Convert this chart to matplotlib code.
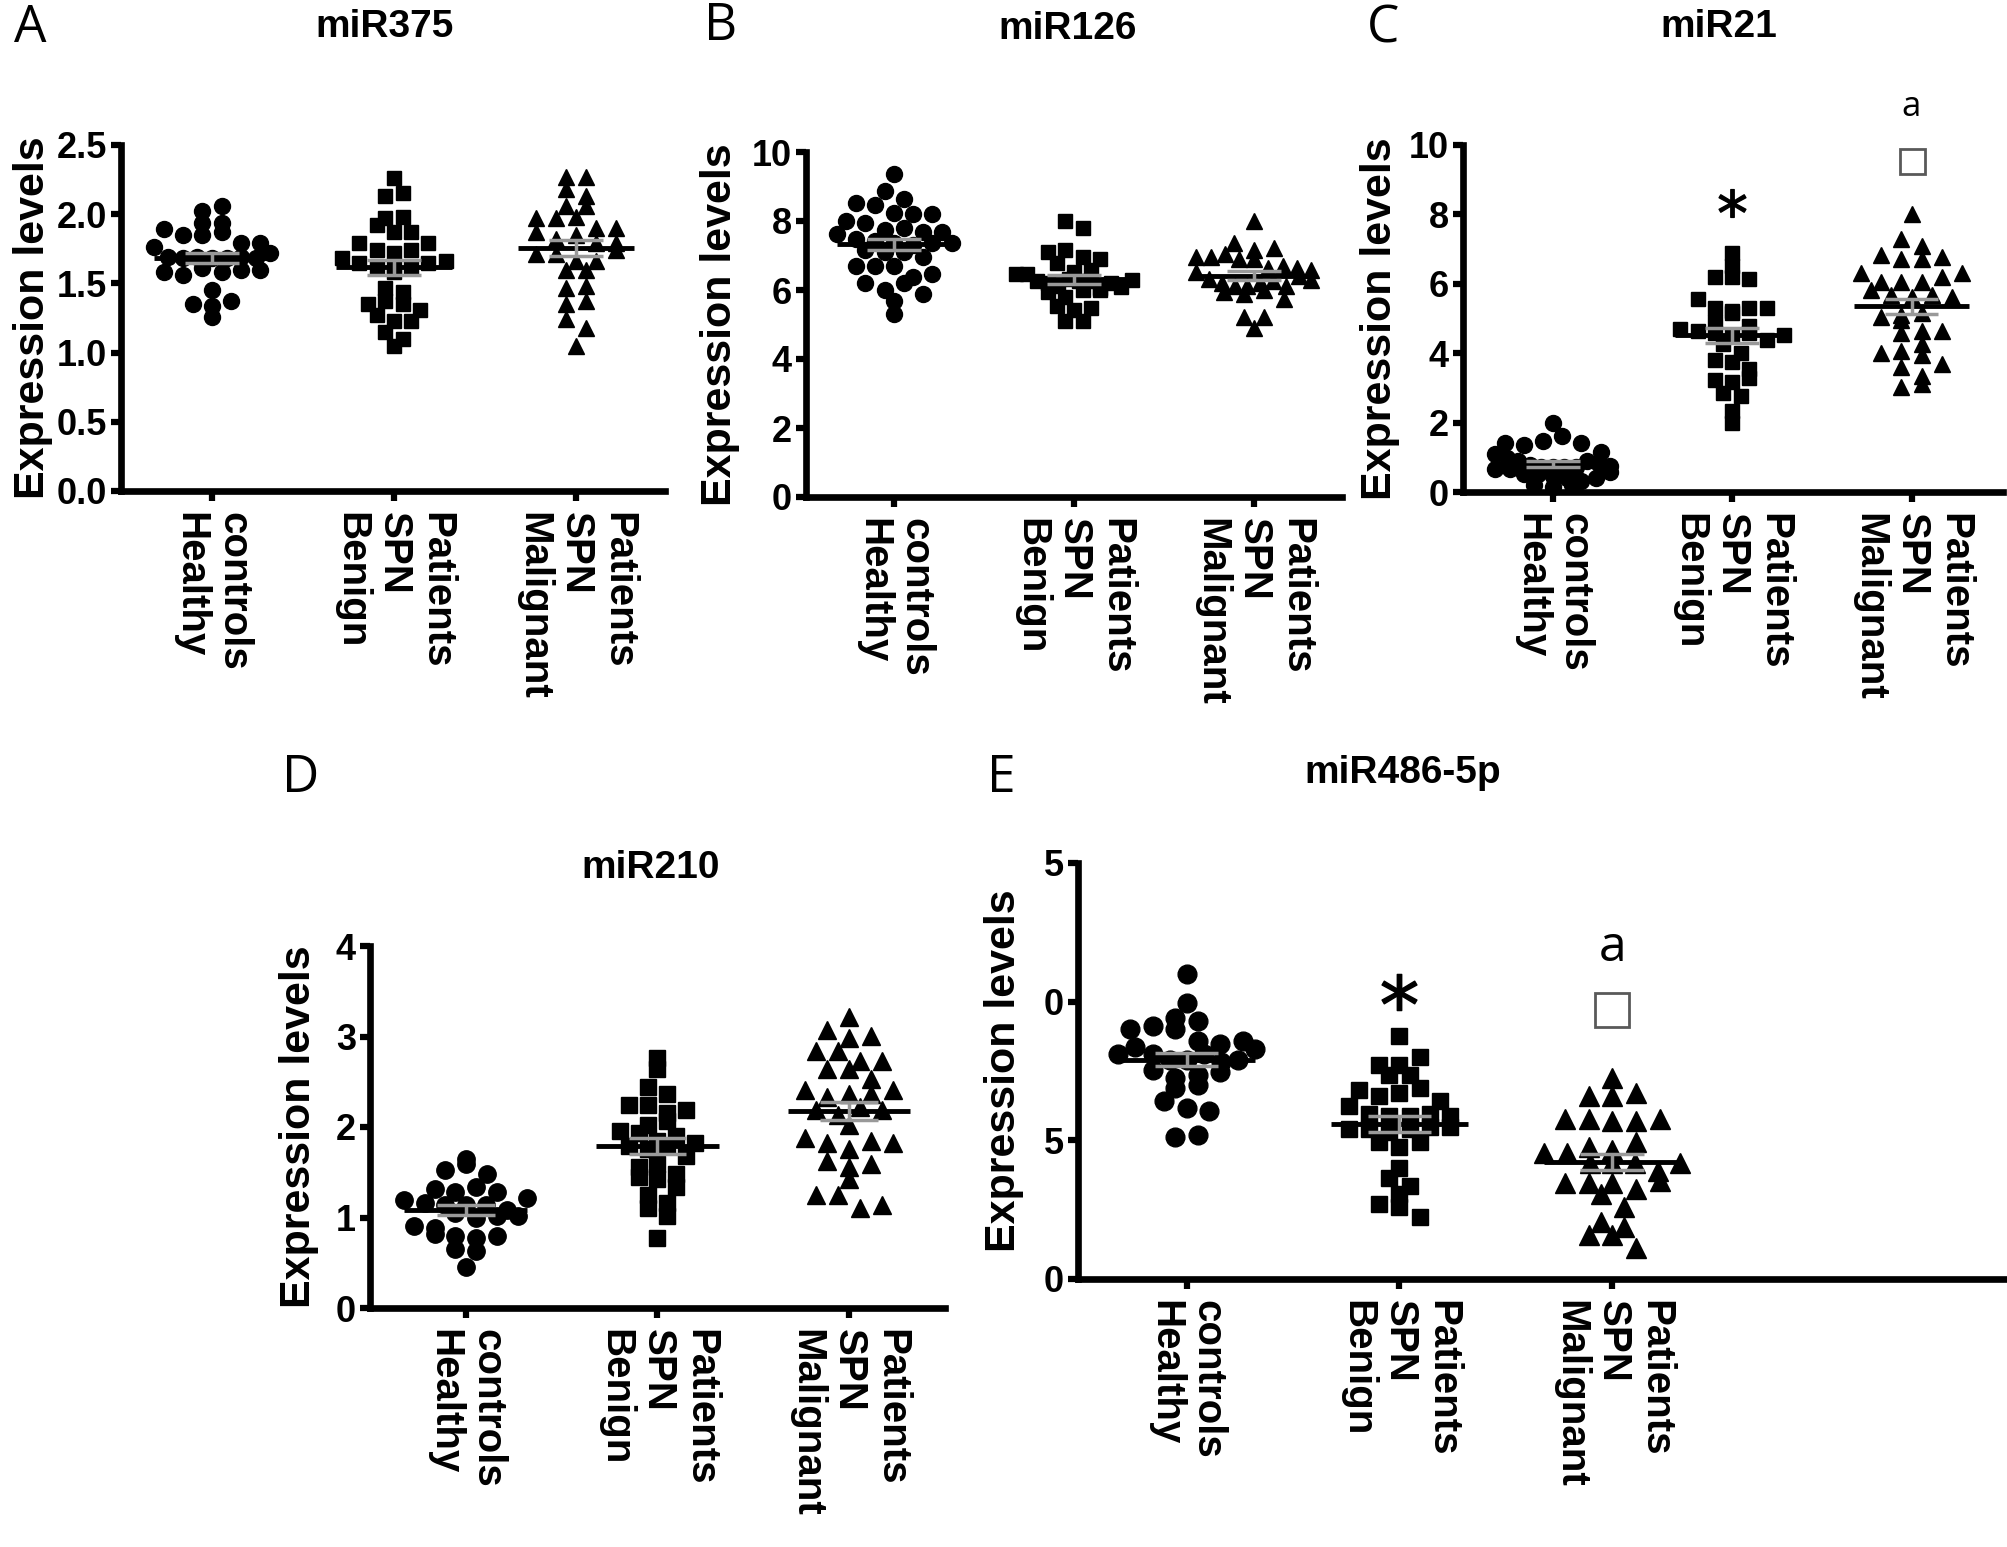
import numpy as np
import matplotlib
matplotlib.use("Agg")
import matplotlib.pyplot as plt
import matplotlib.transforms as mtransforms

plt.rcParams['font.family'] = ['Liberation Sans', 'DejaVu Sans']

# group labels (rotated, so first line sits on the right)
groups = ['controls\nHealthy', 'Patients\nSPN\nBenign', 'Patients\nSPN\nMalignant']

# ---- A: miR375
a_healthy = [1.94, 1.89, 1.85, 2.02, 2.06, 1.85, 1.87, 1.94, 1.79, 1.76, 1.79, 1.69, 1.68, 1.69, 1.68,
             1.68, 1.69, 1.68, 1.58, 1.56, 1.61, 1.58, 1.60, 1.60, 1.45, 1.35, 1.34, 1.37, 1.26, 1.72]
a_benign = [2.26, 2.13, 2.15, 1.97, 1.92, 1.98, 1.87, 1.87, 1.79, 1.74, 1.72, 1.74, 1.79, 1.68, 1.65,
            1.61, 1.58, 1.61, 1.61, 1.65, 1.66, 1.47, 1.44, 1.35, 1.37, 1.35, 1.31, 1.27, 1.23, 1.23,
            1.15, 1.10, 1.05]
a_malig = [2.27, 2.27, 2.18, 2.13, 2.06, 2.06, 1.97, 1.97, 1.98, 1.90, 1.90, 1.87, 1.82, 1.85, 1.79,
           1.79, 1.71, 1.71, 1.66, 1.66, 1.74, 1.60, 1.60, 1.47, 1.48, 1.35, 1.37, 1.24, 1.18, 1.05]

# ---- B: miR126
b_healthy = [9.35, 8.86, 8.52, 8.45, 8.65, 8.23, 8.19, 8.19, 8.00, 7.94, 7.74, 7.81, 7.68, 7.68, 7.61,
             7.48, 7.42, 7.35, 7.29, 7.35, 7.35, 7.16, 7.10, 7.10, 6.97, 6.71, 6.71, 6.71, 6.39, 6.45,
             6.19, 6.00, 6.19, 5.87, 5.68, 5.29]
b_benign = [8.00, 7.81, 7.10, 7.16, 6.97, 6.77, 6.90, 6.52, 6.45, 6.45, 6.58, 6.26, 6.19, 6.13, 6.32,
            6.26, 6.26, 6.06, 5.94, 5.81, 6.00, 6.00, 5.55, 5.42, 5.48, 5.10, 5.10, 6.20, 6.10, 6.30]
b_malig = [8.00, 7.35, 7.16, 6.97, 6.97, 7.03, 7.23, 6.90, 6.90, 6.65, 6.52, 6.71, 6.65, 6.58, 6.32,
           6.19, 6.13, 6.13, 6.19, 6.26, 6.13, 5.94, 5.87, 6.00, 5.74, 5.23, 5.23, 4.90, 6.40, 6.30]

# ---- C: miR21
c_healthy = [2.00, 1.42, 1.35, 1.48, 1.61, 1.42, 1.16, 1.10, 0.97, 0.90, 0.77, 0.71, 0.65, 0.71, 0.65,
             0.71, 0.71, 0.52, 0.52, 0.45, 0.39, 0.32, 0.39, 0.19, 0.13, 0.19, 0.58, 0.90, 0.80, 0.75]
c_benign = [6.90, 6.52, 6.19, 6.19, 6.13, 5.55, 5.29, 5.23, 5.29, 5.29, 4.90, 5.16, 4.77, 4.71, 4.65,
            4.58, 4.52, 4.58, 4.39, 4.52, 4.26, 4.00, 3.81, 3.74, 3.55, 3.23, 3.16, 3.29, 2.84, 2.77,
            2.32, 2.00]
c_malig = [8.00, 7.29, 7.10, 6.84, 6.71, 6.71, 6.77, 6.32, 6.06, 6.06, 6.06, 6.19, 6.32, 5.81, 5.68,
           5.61, 5.68, 5.61, 5.03, 5.10, 5.16, 4.97, 4.65, 4.58, 4.65, 4.26, 4.00, 4.06, 3.94, 3.61,
           3.68, 3.35, 3.03, 3.10]

# ---- D: miR210
d_healthy = [1.65, 1.53, 1.59, 1.48, 1.31, 1.28, 1.34, 1.19, 1.16, 1.14, 1.14, 1.14, 0.91, 0.82, 0.80,
             0.77, 0.80, 0.88, 0.65, 0.63, 0.45, 1.05, 0.99, 1.02, 1.02, 1.08, 1.22, 1.28]
d_benign = [2.76, 2.64, 2.44, 2.36, 2.24, 2.24, 2.16, 2.19, 2.02, 2.07, 1.96, 1.93, 1.85, 1.90, 1.82,
            1.79, 1.76, 1.79, 1.68, 1.56, 1.59, 1.45, 1.42, 1.48, 1.34, 1.25, 1.16, 1.11, 1.02, 0.77]
d_malig = [3.21, 3.07, 2.98, 3.01, 2.84, 2.84, 2.73, 2.64, 2.64, 2.73, 2.53, 2.41, 2.33, 2.36, 2.36,
           2.41, 2.19, 2.13, 2.22, 2.19, 2.02, 1.88, 1.82, 1.76, 1.85, 1.82, 1.62, 1.56, 1.59, 1.42,
           1.25, 1.25, 1.11, 1.14]

# ---- E: miR486-5p (axis printed as 0,5,0,5)
e_healthy = [10.99, 9.96, 9.40, 9.31, 9.03, 9.12, 9.03, 8.10, 8.57, 8.38, 8.47, 8.57, 8.10, 7.91, 7.91,
             8.10, 7.82, 7.91, 7.54, 7.26, 7.36, 7.45, 6.89, 6.98, 6.42, 6.15, 6.05, 5.12, 5.21, 8.30]
e_benign = [8.75, 7.73, 7.73, 8.00, 7.36, 7.36, 6.80, 6.61, 6.70, 6.89, 6.42, 6.24, 5.96, 5.87, 5.87,
            5.96, 5.87, 5.40, 5.40, 5.31, 5.40, 5.49, 5.49, 4.93, 4.75, 4.93, 4.00, 3.63, 3.35, 3.07,
            2.70, 2.61, 2.23]
e_malig = [7.26, 6.61, 6.61, 6.70, 5.77, 5.77, 5.68, 5.68, 5.77, 4.75, 4.56, 4.56, 4.66, 4.93, 3.45,
           3.07, 3.45, 3.45, 3.26, 3.54, 4.19, 4.19, 4.19, 3.91, 4.19, 2.61, 2.05, 1.58, 1.58, 1.86,
           1.12]

W, H = 2008, 1547
fig = plt.figure(figsize=(W / 100, H / 100), dpi=100)
fig.patch.set_facecolor('white')


def rect(left, right, bottom, top):
    # pixel box -> figure fraction
    return [left / W, 1 - bottom / H, (right - left) / W, (bottom - top) / H]


def spread(ax, vals, ms):
    # GraphPad-like rows: points of similar value share a row, spread sideways
    bb = ax.get_position()
    x0, x1 = ax.get_xlim()
    y0, y1 = ax.get_ylim()
    px_x = bb.width * W / (x1 - x0)
    px_y = bb.height * H / (y1 - y0)
    ms_px = ms * 100 / 72
    row = 1.0 * ms_px / px_y
    step = 1.2 * ms_px / px_x
    vals = np.asarray(vals, float)
    offs = np.zeros(len(vals))
    bins = np.round(vals / row).astype(int)
    for b in np.unique(bins):
        idx = np.where(bins == b)[0]
        n = len(idx)
        s = step if (n - 1) * step <= 0.64 else 0.64 / (n - 1)
        offs[idx] = (np.arange(n) - (n - 1) / 2) * s
    return offs


def panel(box, xlim, ylim, yticks, yticklabels, data, title, title_xy, letter, letter_xy, ylab_x, ms):
    ax = fig.add_axes(rect(*box))
    ax.set_xlim(*xlim)
    ax.set_ylim(*ylim)
    for sp in ['top', 'right']:
        ax.spines[sp].set_visible(False)
    for sp in ['left', 'bottom']:
        ax.spines[sp].set_linewidth(4.8)
    ax.tick_params(width=4.5, length=7, direction='out')
    ax.tick_params(axis='y', pad=3, labelsize=26)
    ax.tick_params(axis='x', pad=8)
    ax.set_yticks(yticks)
    ax.set_yticklabels(yticklabels, fontweight='bold')
    ax.set_xticks([0, 1, 2])
    ax.set_xticklabels(groups, rotation=-90, fontsize=29, fontweight='bold',
                       multialignment='left', linespacing=1.15)

    markers = ['o', 's', '^']
    sizes = [ms, ms * 0.9, ms * 1.05]
    for i, vals in enumerate(data):
        vals = np.asarray(vals, float)
        offs = spread(ax, vals, sizes[i])
        ax.plot(i + offs, vals, ls='none', marker=markers[i], ms=sizes[i], color='black',
                mec='black', clip_on=False, zorder=3)
        m = vals.mean()
        se = vals.std(ddof=1) / np.sqrt(len(vals))
        ax.hlines(m, i - 0.32, i + 0.32, color='black', lw=3.5, zorder=4)
        ax.hlines([m - se, m + se], i - 0.15, i + 0.15, color='0.6', lw=2.5, zorder=5)
        ax.vlines(i, m - se, m + se, color='0.6', lw=2.5, zorder=5)

    trans = mtransforms.blended_transform_factory(fig.transFigure, ax.transAxes)
    ax.yaxis.set_label_coords(ylab_x / W, 0.5, transform=trans)
    ax.set_ylabel('Expression levels', fontsize=31, fontweight='bold', va='center')

    fig.text(title_xy[0] / W, 1 - title_xy[1] / H, title, fontsize=28, fontweight='bold',
             ha='center', va='center')
    fig.text(letter_xy[0] / W, 1 - letter_xy[1] / H, letter, fontsize=37, family='Open Sans',
             ha='center', va='center')
    return ax


def sig_marks(ax, star_y, a_y, sq_y, star_ms, a_size, sq_ms):
    ax.plot(1, star_y, ls='none', marker='$*$', ms=star_ms, color='black', clip_on=False)
    ax.text(2, a_y, 'a', fontsize=a_size, family='Open Sans', ha='center', va='center')
    ax.plot(2, sq_y, ls='none', marker='s', ms=sq_ms, mfc='white', mec='0.35', mew=2,
            clip_on=False)


axA = panel((121, 665, 491, 145), (-0.5, 2.49), (0, 2.5), [0, 0.5, 1.0, 1.5, 2.0, 2.5],
            ['0.0', '0.5', '1.0', '1.5', '2.0', '2.5'], [a_healthy, a_benign, a_malig],
            'miR375', (385, 27), 'A', (30, 29), 33, 11.5)
axB = panel((806, 1342, 497, 152), (-0.49, 2.49), (0, 10), [0, 2, 4, 6, 8, 10],
            ['0', '2', '4', '6', '8', '10'], [b_healthy, b_benign, b_malig],
            'miR126', (1068, 29), 'B', (721, 27), 720, 11.5)
axC = panel((1463, 2003, 492, 145), (-0.5, 2.51), (0, 10), [0, 2, 4, 6, 8, 10],
            ['0', '2', '4', '6', '8', '10'], [c_healthy, c_benign, c_malig],
            'miR21', (1719, 27), 'C', (1383, 29), 1380, 11.5)
axD = panel((370, 945, 1308, 946), (-0.5, 2.5), (0, 4), [0, 1, 2, 3, 4],
            ['0', '1', '2', '3', '4'], [d_healthy, d_benign, d_malig],
            'miR210', (651, 868), 'D', (301, 779), 299, 12.5)
axE = panel((1078, 2004, 1279, 863), (-0.51, 3.84), (0, 15), [0, 5, 10, 15],
            ['0', '5', '0', '5'], [e_healthy, e_benign, e_malig],
            'miR486-5p', (1403, 773), 'E', (1001, 779), 1004, 13.5)

sig_marks(axC, 8.33, 11.1, 9.54, 20, 25, 18)
sig_marks(axE, 10.35, 11.94, 9.70, 26, 36, 25)

fig.savefig('out.png', dpi=100, facecolor='white')
